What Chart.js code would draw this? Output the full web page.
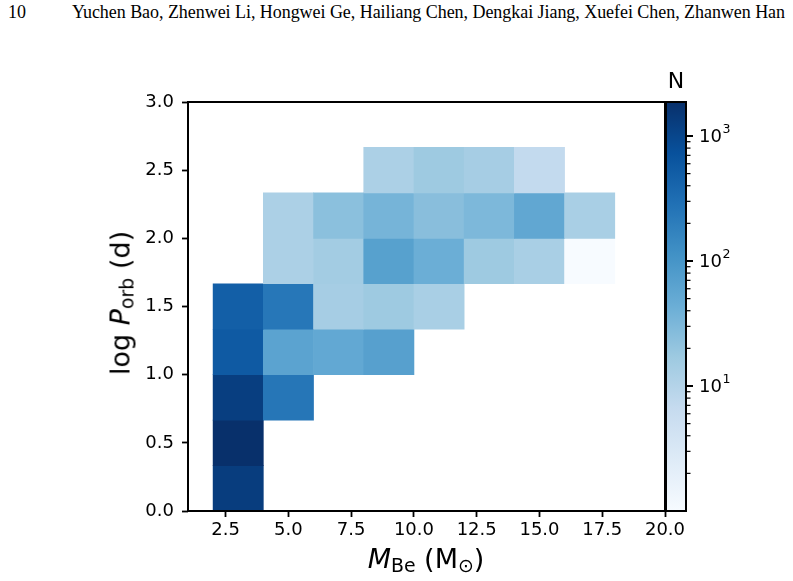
<!DOCTYPE html>
<html>
<head>
<meta charset="utf-8">
<script src="https://cdn.jsdelivr.net/npm/chart.js@4.4.1/dist/chart.umd.min.js"></script>
<style>
  body { margin: 0; background: #fff; width: 793px; height: 581px; position: relative; overflow: hidden; font-family: 'DejaVu Sans', sans-serif; color: #000; }
  canvas { position: absolute; }
  .hdr { position: absolute; top: 1px; font-family: 'Liberation Serif', 'Times New Roman', serif; font-size: 18px; line-height: 22px; white-space: nowrap; }
  .lbl { position: absolute; font-size: 27px; line-height: 27px; white-space: nowrap; }
  .lbl sub { font-size: 0.7em; line-height: 0; vertical-align: -0.22em; }
</style>
</head>
<body>
<div class="hdr" style="left:8px">10</div>
<div class="hdr" id="authors" style="left:72px">Yuchen Bao, Zhenwei Li, Hongwei Ge, Hailiang Chen, Dengkai Jiang, Xuefei Chen, Zhanwen Han</div>
<canvas id="heatmap" width="793" height="581" style="left:0;top:0"></canvas>
<canvas id="colorbar" width="153" height="581" style="left:640px;top:0"></canvas>
<div class="lbl" id="xTitle" style="left:426px;top:545px;transform:translateX(-50%)"><i>M</i><sub>Be</sub> (M<sub>⊙</sub>)</div>
<div class="lbl" id="yTitle" style="left:120px;top:303px;transform:translate(-50%,-50%) rotate(-90deg)">log <i>P</i><sub>orb</sub> (d)</div>
<div class="lbl" id="cbTitle" style="left:676px;top:70px;font-size:22px;line-height:22px;transform:translateX(-50%)">N</div>

<script>
// bin edges of the 2D histogram
const massEdges = [2, 4, 6, 8, 10, 12, 14, 16, 18];
const logPEdges = [0, 1 / 3, 2 / 3, 1, 4 / 3, 5 / 3, 2, 7 / 3, 8 / 3];

// counts per mass bin, one array per logP bin (bottom to top)
const countsRow0 = [1300, null, null, null, null, null, null, null];
const countsRow1 = [1870, null, null, null, null, null, null, null];
const countsRow2 = [1250, 250, null, null, null, null, null, null];
const countsRow3 = [560, 62, 53, 69, null, null, null, null];
const countsRow4 = [480, 240, 14, 17, 13, null, null, null];
const countsRow5 = [null, 12, 15, 68, 43, 17, 13, 1];
const countsRow6 = [null, 12, 24, 35, 25, 31, 55, 13];
const countsRow7 = [null, null, null, 12, 17, 14, 7, null];
const countRows = [countsRow0, countsRow1, countsRow2, countsRow3, countsRow4, countsRow5, countsRow6, countsRow7];

const xTickValues = [2.5, 5, 7.5, 10, 12.5, 15, 17.5, 20];
const yTickValues = [0, 0.5, 1, 1.5, 2, 2.5, 3];
const cbMajorTicks = [10, 100, 1000];
const cbMajorExponents = ['1', '2', '3'];
const cbMinorTicks = [2, 3, 4, 5, 6, 7, 8, 9, 20, 30, 40, 50, 60, 70, 80, 90, 200, 300, 400, 500, 600, 700, 800, 900];
const cbMin = 1;
const cbMax = 1870;

// matplotlib "Blues"
const bluesStops = ['#f7fbff', '#deebf7', '#c6dbef', '#9ecae1', '#6baed6', '#4292c6', '#2171b5', '#08519c', '#08306b'];

function hexToRgb(h) {
    return [parseInt(h.slice(1, 3), 16), parseInt(h.slice(3, 5), 16), parseInt(h.slice(5, 7), 16)];
}

function bluesColor(t) {
    t = Math.min(1, Math.max(0, t));
    const pos = t * (bluesStops.length - 1);
    const i = Math.min(Math.floor(pos), bluesStops.length - 2);
    const f = pos - i;
    const a = hexToRgb(bluesStops[i]);
    const b = hexToRgb(bluesStops[i + 1]);
    const c = a.map((v, k) => Math.round(v + (b[k] - v) * f));
    return `rgb(${c[0]},${c[1]},${c[2]})`;
}

// ヘッダーの幅を合わせる (72px → 785px)
(function fitHeader() {
    const el = document.getElementById('authors');
    const w = el.getBoundingClientRect().width;
    const gaps = el.textContent.length - 1;
    el.style.letterSpacing = ((713 - w) / gaps).toFixed(3) + 'px';
})();

// 枠線
const framePlugin = {
    id: 'frame',
    afterDraw(chart) {
        const { ctx, chartArea: a } = chart;
        ctx.save();
        ctx.strokeStyle = '#000';
        ctx.lineWidth = 2;
        ctx.strokeRect(a.left, a.top, a.right - a.left, a.bottom - a.top);
        ctx.restore();
    }
};

// カラーバーの目盛りとラベル (10^n)
const cbTicksPlugin = {
    id: 'cbTicks',
    afterDraw(chart) {
        const { ctx, chartArea: a } = chart;
        const s = chart.scales.y;
        ctx.save();
        ctx.strokeStyle = '#000';
        ctx.fillStyle = '#000';
        ctx.lineWidth = 1.2;
        cbMinorTicks.forEach(v => {
            const y = s.getPixelForValue(v);
            ctx.beginPath();
            ctx.moveTo(a.right, y);
            ctx.lineTo(a.right + 4.5, y);
            ctx.stroke();
        });
        ctx.lineWidth = 2;
        ctx.textBaseline = 'middle';
        ctx.textAlign = 'left';
        cbMajorTicks.forEach((v, i) => {
            const y = s.getPixelForValue(v);
            ctx.beginPath();
            ctx.moveTo(a.right, y);
            ctx.lineTo(a.right + 7, y);
            ctx.stroke();
            ctx.font = "18px 'DejaVu Sans'";
            ctx.fillText('10', a.right + 13, y + 1);
            const w = ctx.measureText('10').width;
            ctx.font = "12.6px 'DejaVu Sans'";
            ctx.fillText(cbMajorExponents[i], a.right + 13 + w + 0.5, y - 6);
        });
        ctx.restore();
    }
};

Chart.defaults.font.family = "'DejaVu Sans', sans-serif";
Chart.defaults.color = '#000';

// セルを作る
let cells = [];
let cellColors = [];
countRows.forEach((row, r) => {
    row.forEach((n, c) => {
        if (n === null) return;
        cells.push({
            x: (massEdges[c] + massEdges[c] + 2) / 2,
            y: [logPEdges[r], logPEdges[r + 1]]
        });
        cellColors.push(bluesColor(Math.log10(n / cbMin) / Math.log10(cbMax / cbMin)));
    });
});

new Chart(document.getElementById('heatmap'), {
    type: 'bar',
    data: {
        datasets: [{
            data: cells,
            backgroundColor: cellColors,
            borderWidth: 0,
            barPercentage: 1,
            categoryPercentage: 1
        }]
    },
    plugins: [framePlugin],
    options: {
        responsive: false,
        animation: false,
        events: [],
        layout: { padding: { left: 128, top: 102, right: 128, bottom: 30 } },
        plugins: { legend: { display: false }, tooltip: { enabled: false } },
        scales: {
            x: {
                type: 'linear',
                min: 1,
                max: 20,
                offset: false,
                afterBuildTicks: s => { s.ticks = xTickValues.map(v => ({ value: v })); },
                afterFit: s => { s.height = 40; },
                ticks: { autoSkip: false, maxRotation: 0, padding: 3, font: { size: 18 }, callback: v => v.toFixed(1) },
                grid: { offset: false, drawOnChartArea: false, tickLength: 6, tickWidth: 1.8, tickColor: '#000' },
                border: { display: false }
            },
            y: {
                type: 'linear',
                min: 0,
                max: 3,
                afterBuildTicks: s => { s.ticks = yTickValues.map(v => ({ value: v })); },
                afterFit: s => { s.width = 60; },
                ticks: { autoSkip: false, padding: 8, font: { size: 18 }, callback: v => v.toFixed(1) },
                grid: { drawOnChartArea: false, tickLength: 6, tickWidth: 1.8, tickColor: '#000' },
                border: { display: false }
            }
        }
    }
});

// カラーバー
new Chart(document.getElementById('colorbar'), {
    type: 'bar',
    data: {
        labels: ['N'],
        datasets: [{
            data: [[cbMin, cbMax]],
            backgroundColor: (ctx) => {
                const area = ctx.chart.chartArea;
                if (!area) return bluesStops[0];
                const g = ctx.chart.ctx.createLinearGradient(0, area.bottom, 0, area.top);
                bluesStops.forEach((c, i) => g.addColorStop(i / (bluesStops.length - 1), c));
                return g;
            },
            borderWidth: 0,
            barPercentage: 1,
            categoryPercentage: 1
        }]
    },
    plugins: [framePlugin, cbTicksPlugin],
    options: {
        responsive: false,
        animation: false,
        events: [],
        layout: { padding: { left: 26, top: 102, right: 107, bottom: 70 } },
        plugins: { legend: { display: false }, tooltip: { enabled: false } },
        scales: {
            x: { display: false },
            y: { type: 'logarithmic', display: false, min: cbMin, max: cbMax }
        }
    }
});
</script>
</body>
</html>
